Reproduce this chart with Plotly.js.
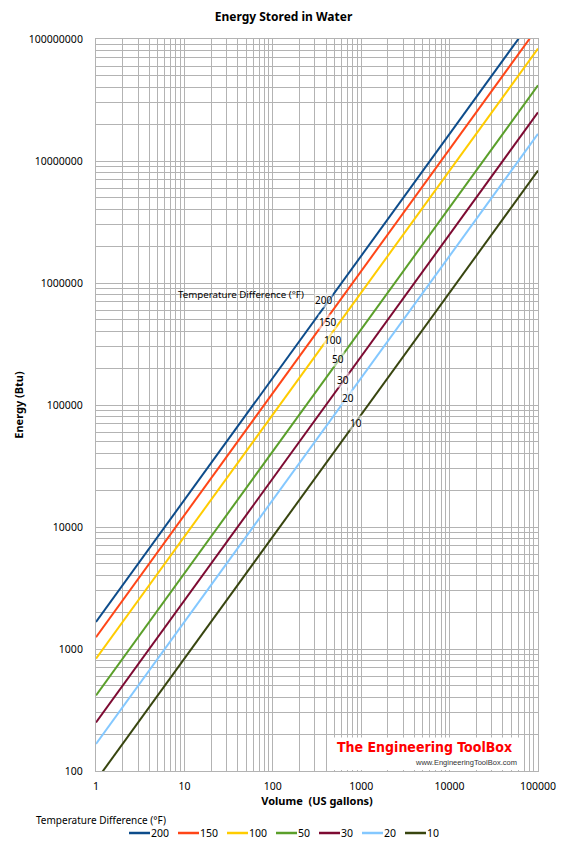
<!DOCTYPE html>
<html>
<head>
<meta charset="utf-8">
<script src="https://cdn.plot.ly/plotly-3.0.1.min.js"></script>
<style>html,body{margin:0;padding:0;background:#fff;}#chart{width:567px;height:851px;}</style>
</head>
<body>
<div id="chart"></div>
<script>
// Volume (US gallons)
const volume = [1, 10, 100, 1000, 10000, 100000];
// Energy (Btu) for each temperature difference (°F)
const energy200 = [1668, 16680, 166800, 1668000, 16680000, 166800000];
const energy150 = [1251, 12510, 125100, 1251000, 12510000, 125100000];
const energy100 = [834, 8340, 83400, 834000, 8340000, 83400000];
const energy50  = [417, 4170, 41700, 417000, 4170000, 41700000];
const energy30  = [250, 2502, 25020, 250200, 2502000, 25020000];
const energy20  = [167, 1668, 16680, 166800, 1668000, 16680000];
const energy10  = [83.4, 834, 8340, 83400, 834000, 8340000];
const seriesNames = ["200", "150", "100", "50", "30", "20", "10"];
const seriesData = [energy200, energy150, energy100, energy50, energy30, energy20, energy10];
const colors = ["#0d4c8b", "#ff4517", "#ffcc00", "#5a9f2a", "#7d0a32", "#84c8ff", "#38450f"];

// label anchor positions on the lines (volume, energy)
const labelVol = [370, 421, 468, 547, 622, 710, 873];
const labelEnergy = [726000, 479000, 341000, 238000, 160000, 114000, 71000];

const FONT = "Noto Sans, Liberation Sans, sans-serif";

// plot-area geometry (px) used for paper-coordinate helpers
const M = {l: 96, r: 29, t: 39, b: 80};
const W = 567, H = 851;
const PW = W - M.l - M.r, PH = H - M.t - M.b;
const px2x = px => (px - M.l) / PW;
const py2y = py => (H - M.b - py) / PH;

const traces = seriesNames.map((n, i) => ({
  x: volume, y: seriesData[i], name: n, type: "scatter", mode: "lines",
  line: {color: colors[i], width: 2}, showlegend: false
}));

const annotations = seriesNames.map((n, i) => ({
  x: Math.log10(labelVol[i]), y: Math.log10(labelEnergy[i]), xref: "x", yref: "y",
  text: n, showarrow: false, font: {family: FONT, size: 10, color: "#000"},
  bgcolor: "rgba(255,255,255,0.55)", borderpad: 0
}));
annotations.push({
  x: Math.log10(8.0), y: Math.log10(810000), xref: "x", yref: "y", xanchor: "left",
  text: "Temperature Difference (°F)", showarrow: false,
  font: {family: FONT, size: 9.7, color: "#000"}
});
// legend title
annotations.push({
  xref: "paper", yref: "paper", x: px2x(34), y: py2y(820), xanchor: "left", yanchor: "middle",
  text: "Temperature Difference (°F)", showarrow: false,
  font: {family: FONT, size: 10, color: "#000"}
});
// logo
annotations.push({
  xref: "paper", yref: "paper", x: px2x(335), y: py2y(747), xanchor: "left", yanchor: "middle",
  text: "<b>The Engineering ToolBox</b>", showarrow: false,
  font: {family: "Liberation Sans Narrow, DejaVu Sans Condensed, sans-serif", size: 14, color: "#ff0000"}
});
annotations.push({
  xref: "paper", yref: "paper", x: px2x(519), y: py2y(762), xanchor: "right", yanchor: "middle",
  text: "www.EngineeringToolBox.com", showarrow: false,
  font: {family: "Liberation Sans, sans-serif", size: 7.5, color: "#333"}
});

const shapes = [{
  type: "rect", xref: "paper", yref: "paper", layer: "above",
  x0: px2x(327), x1: px2x(520), y0: py2y(770), y1: py2y(737.5),
  fillcolor: "#fff", line: {width: 0}
}];

// legend (drawn in the bottom margin)
let lx = 129;
const legY = 833;
seriesNames.forEach((n, i) => {
  shapes.push({type: "line", xref: "paper", yref: "paper",
    x0: px2x(lx), x1: px2x(lx + 21), y0: py2y(legY), y1: py2y(legY),
    line: {color: colors[i], width: 2.5}});
  annotations.push({xref: "paper", yref: "paper", x: px2x(lx + 21), y: py2y(legY),
    xanchor: "left", yanchor: "middle", text: n, showarrow: false,
    font: {family: FONT, size: 10.5, color: "#000"}, borderpad: 0});
  lx += 21 + 6 * n.length + 10;
});

const gridColor = "#b3b3b3";
const layout = {
  width: W, height: H,
  margin: {l: M.l, r: M.r, t: M.t, b: M.b, pad: 0, autoexpand: false},
  paper_bgcolor: "#fff", plot_bgcolor: "#fff",
  font: {family: FONT, size: 10, color: "#000"},
  title: {text: "<b>Energy Stored in Water</b>", x: 0.5, xanchor: "center", y: 0.98, yanchor: "middle",
          font: {family: FONT, size: 12, color: "#000"}},
  xaxis: {
    type: "log", range: [0, 5], dtick: 1, tickformat: "d",
    showgrid: true, gridcolor: gridColor, gridwidth: 1,
    minor: {dtick: "D1", showgrid: true, gridcolor: gridColor, gridwidth: 1, ticks: ""},
    showline: true, linecolor: gridColor, mirror: true, ticks: "", ticklabelstandoff: 5,
    zeroline: false, automargin: false,
    title: {text: "<b>Volume  (US gallons)</b>", font: {family: FONT, size: 11}, standoff: 5},
    tickfont: {family: FONT, size: 10.5}
  },
  yaxis: {
    type: "log", range: [2, 8], dtick: 1, tickformat: "d",
    showgrid: true, gridcolor: gridColor, gridwidth: 1,
    minor: {dtick: "D1", showgrid: true, gridcolor: gridColor, gridwidth: 1, ticks: ""},
    showline: true, linecolor: gridColor, mirror: true, ticks: "", ticklabelstandoff: 10,
    zeroline: false, automargin: false,
    title: {text: "<b>Energy (Btu)</b>", font: {family: FONT, size: 11}, standoff: 2},
    tickfont: {family: FONT, size: 10.5}
  },
  showlegend: false,
  shapes: shapes,
  annotations: annotations
};

Plotly.newPlot("chart", traces, layout, {displayModeBar: false, staticPlot: true});
</script>
</body>
</html>
